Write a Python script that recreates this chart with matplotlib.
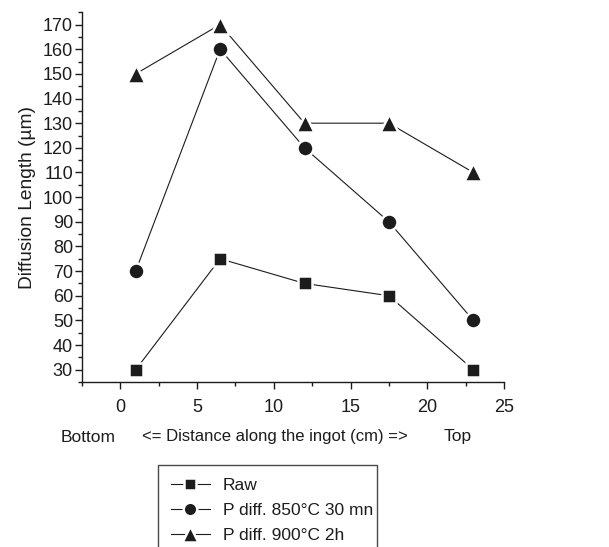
import matplotlib
matplotlib.use("Agg")
import matplotlib.pyplot as plt
from matplotlib.ticker import MultipleLocator

plt.rcParams['font.family'] = ['Liberation Sans', 'DejaVu Sans']

# Data
distance = [1, 6.5, 12, 17.5, 23]
raw = [30, 75, 65, 60, 30]
p850 = [70, 160, 120, 90, 50]
p900 = [150, 170, 130, 130, 110]
labels = ['Raw', 'P diff. 850°C 30 mn', 'P diff. 900°C 2h']

INK = '#1c1c1c'

fig = plt.figure(figsize=(6.09, 5.47), dpi=100)
ax = fig.add_axes([0.1346, 0.3016, 0.693, 0.676])

series = [(raw, 's', 10.5), (p850, 'o', 11.5), (p900, '^', 13.5)]
for (vals, mk, ms), lab in zip(series, labels):
    ax.plot(distance, vals, color=INK, lw=0.8, marker=mk, ms=ms,
            markerfacecolor=INK, markeredgecolor='white', markeredgewidth=1.8,
            label=lab)

ax.set_xlim(-2.5, 25)
ax.set_ylim(25, 175)
ax.xaxis.set_major_locator(MultipleLocator(5))
ax.xaxis.set_minor_locator(MultipleLocator(2.5))
ax.yaxis.set_major_locator(MultipleLocator(10))
ax.yaxis.set_minor_locator(MultipleLocator(5))

for s in ['top', 'right']:
    ax.spines[s].set_visible(False)
for s in ['left', 'bottom']:
    ax.spines[s].set_color(INK)
    ax.spines[s].set_linewidth(1.0)

ax.tick_params(which='major', direction='out', length=5, width=1.0,
               colors=INK, labelsize=13)
ax.tick_params(which='minor', direction='out', length=3, width=1.0, colors=INK)
ax.tick_params(axis='x', pad=7)
ax.tick_params(axis='y', pad=1.5)

ax.set_ylabel('Diffusion Length (µm)', fontsize=13.8, color=INK, labelpad=5)

fig.text(88 / 609, 1 - 437 / 547, 'Bottom', ha='center', va='center',
         fontsize=12.5, color=INK)
fig.text(275 / 609, 1 - 437 / 547, '<= Distance along the ingot (cm) =>',
         ha='center', va='center', fontsize=12, color=INK)
fig.text(458 / 609, 1 - 437 / 547, 'Top', ha='center', va='center',
         fontsize=12.5, color=INK)

leg_top = 1 - 465 / 547
leg = fig.legend(loc='upper left',
                 bbox_to_anchor=(158 / 609, leg_top - 0.2, 219 / 609, 0.2),
                 mode='expand', borderaxespad=0,
                 frameon=True, fancybox=False, edgecolor=INK, fontsize=12.5,
                 handlelength=2.3, handletextpad=0.7, labelspacing=0.58,
                 borderpad=0.72, markerscale=0.85)
leg.get_frame().set_linewidth(1.0)
for t in leg.get_texts():
    t.set_color(INK)

fig.savefig('out.png', dpi=100)
